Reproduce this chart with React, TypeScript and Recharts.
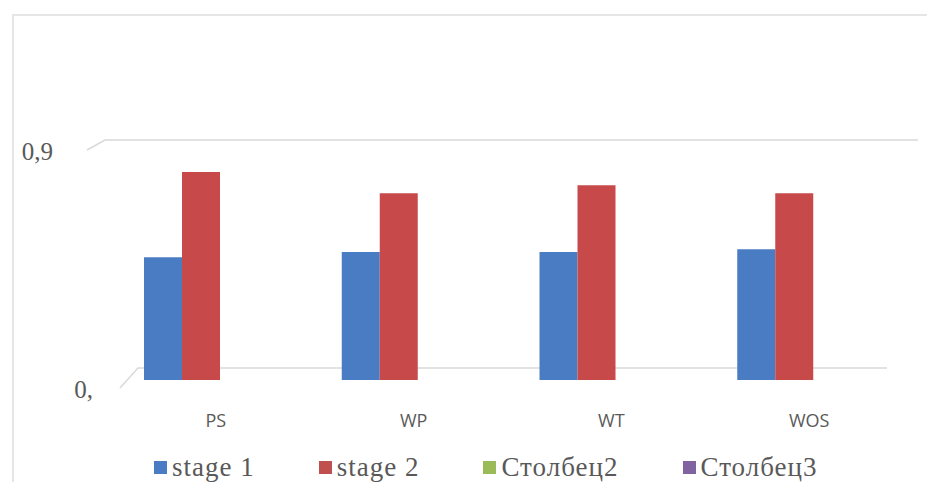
import { BarChart, Bar, XAxis, YAxis, CartesianGrid, Legend } from "recharts";

const categories = ["PS", "WP", "WT", "WOS"];
const stage1 = [0.46, 0.48, 0.48, 0.49];
const stage2 = [0.78, 0.7, 0.73, 0.7];
const yTicks = [0, 0.9];
const yTickLabels = ["0,", "0,9"];

const legendItems = [
  { name: "stage 1", color: "#4a7cc4" },
  { name: "stage 2", color: "#c0504d" },
  { name: "Столбец2", color: "#9bbb59" },
  { name: "Столбец3", color: "#8064a2" },
];

const data = categories.map((c, i) => ({
  name: c,
  stage1: stage1[i],
  stage2: stage2[i],
}));

const YTick = (props: any) => {
  const { x, y, payload, index } = props;
  // perspective nudge: bottom label sits further right and lower
  const dx = index === 0 ? 18 : -22;
  const dy = index === 0 ? 18 : 20;
  return (
    <text
      x={x + dx}
      y={y + dy}
      textAnchor="end"
      fill="#595959"
      fontFamily="'Liberation Serif', serif"
      fontSize={25}
    >
      {yTickLabels[yTicks.indexOf(payload.value)]}
    </text>
  );
};

const GridLine = (props: any) => {
  const { x1, x2, y1, index } = props;
  if (index === 1) {
    // top (0,9) line
    return (
      <path
        d={`M${x1 + 4},${y1 + 10} L${x1 + 22},${y1} L${x2 + 44},${y1}`}
        stroke="#d9d9d9"
        strokeWidth={1.5}
        fill="none"
      />
    );
  }
  const y = y1 - 12;
  return (
    <path
      d={`M${x1 + 37},${y + 20} L${x1 + 55},${y} L${x2 + 13},${y}`}
      stroke="#d9d9d9"
      strokeWidth={1.5}
      fill="none"
    />
  );
};

const renderLegend = () => (
  <div
    style={{
      display: "flex",
      gap: 64,
      fontFamily: "'Liberation Serif', serif",
      fontSize: 27,
      lineHeight: "28px",
      letterSpacing: 1,
      color: "#595959",
      alignItems: "center",
    }}
  >
    {legendItems.map((it) => (
      <div key={it.name} style={{ display: "flex", alignItems: "center" }}>
        <span
          style={{
            display: "inline-block",
            width: 13,
            height: 13,
            background: it.color,
            marginRight: 5,
          }}
        />
        <span>{it.name}</span>
      </div>
    ))}
  </div>
);

export default function App() {
  return (
    <div style={{ position: "fixed", left: 0, top: 0, width: 931, height: 482, background: "#fff" }}>
      <div
        style={{
          position: "absolute",
          left: 12,
          top: 14,
          width: 913,
          height: 468,
          borderLeft: "2px solid #e6e6e6",
          borderTop: "2px solid #e6e6e6",
        }}
      />
      <BarChart
        width={931}
        height={482}
        data={data}
        margin={{ top: 140, right: 57, bottom: 44, left: 0 }}
        barGap={0}
        barSize={38}
        style={{ position: "absolute", left: 0, top: 0 }}
      >
        <CartesianGrid vertical={false} horizontal={GridLine as any} />
        <XAxis
          dataKey="name"
          axisLine={false}
          tickLine={false}
          tick={{ fill: "#595959", fontFamily: "'Open Sans', sans-serif", fontSize: 18, dx: 34, dy: 26 }}
        />
        <YAxis
          type="number"
          domain={[0, 0.9]}
          ticks={yTicks}
          width={83}
          axisLine={false}
          tickLine={false}
          tick={<YTick />}
        />
        <Legend
          content={renderLegend}
          wrapperStyle={{ left: 154, top: 453, width: 770, height: 28 }}
        />
        <Bar dataKey="stage1" fill="#4a7cc4" isAnimationActive={false} />
        <Bar dataKey="stage2" fill="#c8494a" isAnimationActive={false} />
      </BarChart>
    </div>
  );
}
